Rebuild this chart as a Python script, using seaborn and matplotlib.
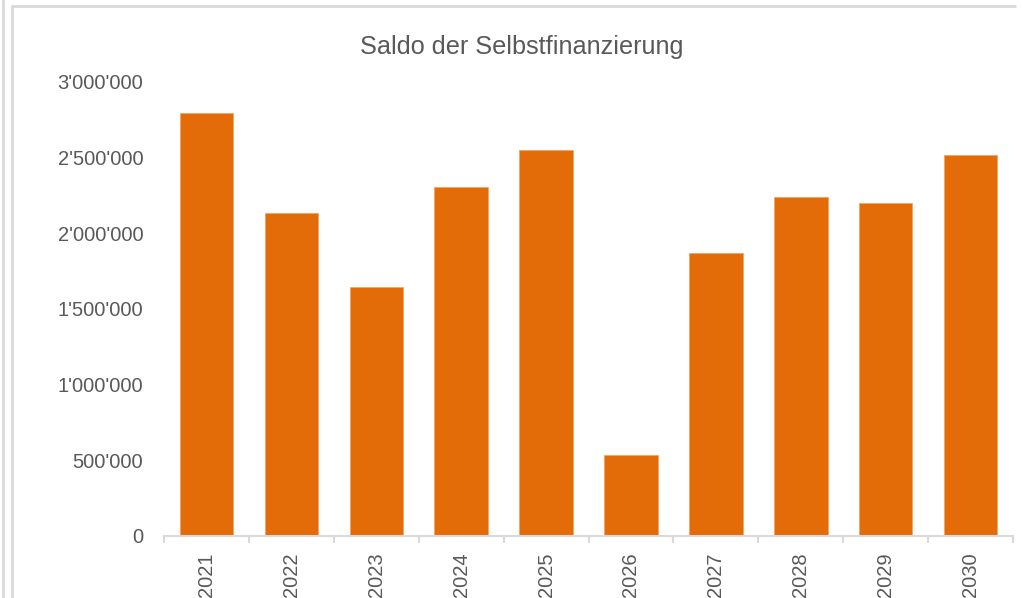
"""
Saldo der Selbstfinanzierung 2021-2030 als Säulendiagramm (Excel-Stil).
"""

import matplotlib

matplotlib.use("Agg")

import matplotlib.pyplot as plt
import pandas as pd
import seaborn as sns
from matplotlib.lines import Line2D
from matplotlib.ticker import FixedLocator, FuncFormatter

# ============================================================
# Daten
# ============================================================
years = ["2021", "2022", "2023", "2024", "2025", "2026", "2027", "2028", "2029", "2030"]
saldo = [2794000, 2133000, 1644000, 2305000, 2549000, 535000, 1868000, 2241000, 2201000, 2518000]

title = "Saldo der Selbstfinanzierung"

# ============================================================
# Stil
# ============================================================
BAR_COLOR = "#E36C09"
TEXT_COLOR = "#595959"
LINE_COLOR = "#D9D9D9"

sns.set_theme(style="white")
plt.rcParams["font.family"] = ["Liberation Sans", "DejaVu Sans"]


def apostroph(x, pos):
    """Tausendertrennzeichen im Schweizer Format: 1'000'000"""
    return f"{x:,.0f}".replace(",", "'")


def main() -> None:
    df = pd.DataFrame({"Jahr": years, "Saldo": saldo})

    fig = plt.figure(figsize=(10.22, 5.98), dpi=100)
    ax = fig.add_axes([0.1605, 0.1037, 0.9912 - 0.1605, 0.8629 - 0.1037])

    sns.barplot(data=df, x="Jahr", y="Saldo", color=BAR_COLOR, saturation=1,
                width=0.63, edgecolor="#F4A460", linewidth=0.6, ax=ax)

    ax.set_xlim(-0.5, len(years) - 0.5)
    ax.set_ylim(0, 3000000)
    ax.set_yticks(range(0, 3000001, 500000))
    ax.yaxis.set_major_formatter(FuncFormatter(apostroph))

    # Achsen wie in Excel: nur Grundlinie, Striche zwischen den Kategorien
    for side in ["top", "right", "left"]:
        ax.spines[side].set_visible(False)
    ax.spines["bottom"].set_color(LINE_COLOR)
    ax.spines["bottom"].set_linewidth(1.5)
    ax.xaxis.set_minor_locator(FixedLocator([i - 0.5 for i in range(len(years) + 1)]))
    ax.tick_params(axis="x", which="minor", bottom=True, length=5, width=1.5, color=LINE_COLOR)
    ax.tick_params(axis="x", which="major", bottom=False, length=0, pad=12,
                   labelsize=14.5, labelcolor=TEXT_COLOR, labelrotation=90)
    ax.tick_params(axis="y", left=False, length=0, pad=15, labelsize=14.5, labelcolor=TEXT_COLOR)
    for lbl in ax.get_xticklabels():
        lbl.set_verticalalignment("top")
    ax.set_xlabel("")
    ax.set_ylabel("")
    ax.grid(False)

    fig.text(0.5103, 0.922, title, ha="center", va="center", fontsize=18.2, color=TEXT_COLOR)

    # Rahmen des Diagrammbereichs
    W, H = 1022, 598
    fig.add_artist(Line2D([12 / W, 1015 / W], [1 - 6 / H, 1 - 6 / H], color=LINE_COLOR, lw=2))
    fig.add_artist(Line2D([12 / W, 12 / W], [0, 1 - 6 / H], color=LINE_COLOR, lw=2))
    fig.add_artist(Line2D([3 / W, 3 / W], [0, 1], color=LINE_COLOR, lw=2))

    fig.savefig("out.png", dpi=100)
    plt.close(fig)


if __name__ == "__main__":
    main()
